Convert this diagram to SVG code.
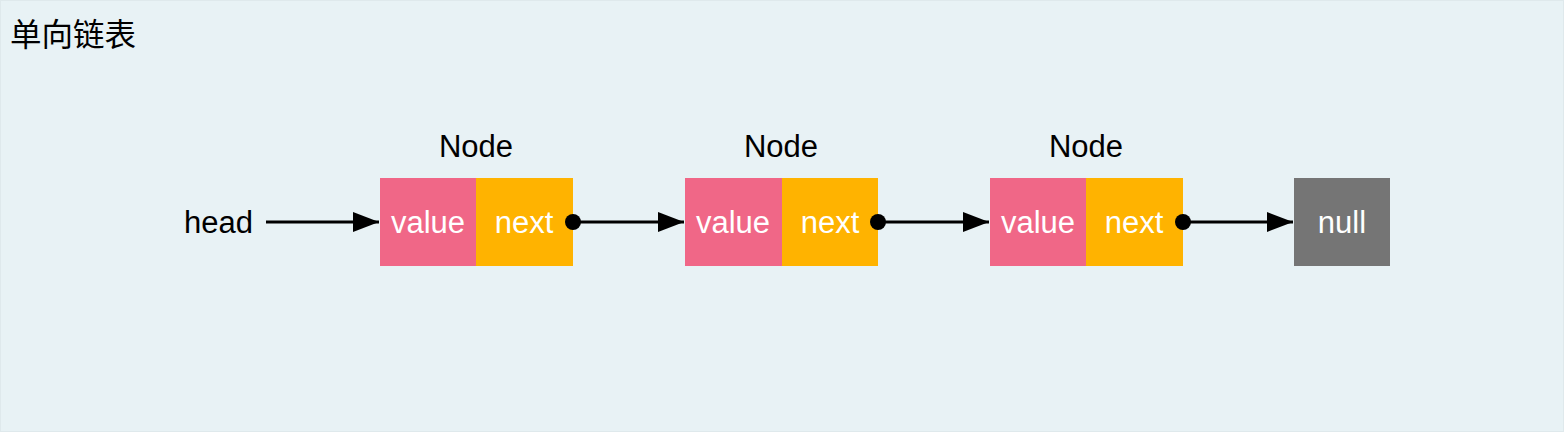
<svg xmlns="http://www.w3.org/2000/svg" width="1564" height="432" viewBox="0 0 1564 432">
<defs>
<style>
text{font-family:"Helvetica","Liberation Sans","Noto Sans CJK SC",sans-serif;font-size:31px;}
.lbl{fill:#000;text-anchor:middle;}
.w{fill:#fff;text-anchor:middle;}
.val{fill:#f06787;}
.nxt{fill:#ffb300;}
.nul{fill:#757575;}
.edge{stroke:#000;stroke-width:3;fill:none;marker-end:url(#arr);}
.dot{fill:#000;}
</style>
<marker id="arr" viewBox="0 0 26 20" refX="26" refY="10" markerWidth="26" markerHeight="20" markerUnits="userSpaceOnUse" orient="auto">
<path d="M0,0 L26,10 L0,20 Z" fill="#000"/>
</marker>
</defs>
<rect x="0.5" y="0.5" width="1563" height="431" fill="#e8f2f5" stroke="#dfe9ec"/>
<text x="10" y="46" style="fill:#000;font-size:31.5px">单向链表</text>
<g id="head"><text x="253" y="233" style="fill:#000;text-anchor:end">head</text></g>
<g id="node1">
<text class="lbl" x="476" y="157">Node</text>
<rect class="val" x="380" y="178" width="96" height="88"/>
<rect class="nxt" x="476" y="178" width="97" height="88"/>
<text class="w" x="428" y="233">value</text>
<text class="w" x="524" y="233">next</text>
</g>
<g id="node2">
<text class="lbl" x="781" y="157">Node</text>
<rect class="val" x="685" y="178" width="97" height="88"/>
<rect class="nxt" x="782" y="178" width="96" height="88"/>
<text class="w" x="733" y="233">value</text>
<text class="w" x="830" y="233">next</text>
</g>
<g id="node3">
<text class="lbl" x="1086" y="157">Node</text>
<rect class="val" x="990" y="178" width="96" height="88"/>
<rect class="nxt" x="1086" y="178" width="97" height="88"/>
<text class="w" x="1038" y="233">value</text>
<text class="w" x="1134" y="233">next</text>
</g>
<g id="null">
<rect class="nul" x="1294" y="178" width="96" height="88"/>
<text class="w" x="1342" y="233">null</text>
</g>
<g id="connectors">
<path class="edge" d="M266,222 L379,222"/>
<path class="edge" d="M573,222 L684,222"/>
<path class="edge" d="M878,222 L989,222"/>
<path class="edge" d="M1183,222 L1293,222"/>
<circle class="dot" cx="573" cy="222" r="8"/>
<circle class="dot" cx="878" cy="222" r="8"/>
<circle class="dot" cx="1183" cy="222" r="8"/>
</g>
</svg>
